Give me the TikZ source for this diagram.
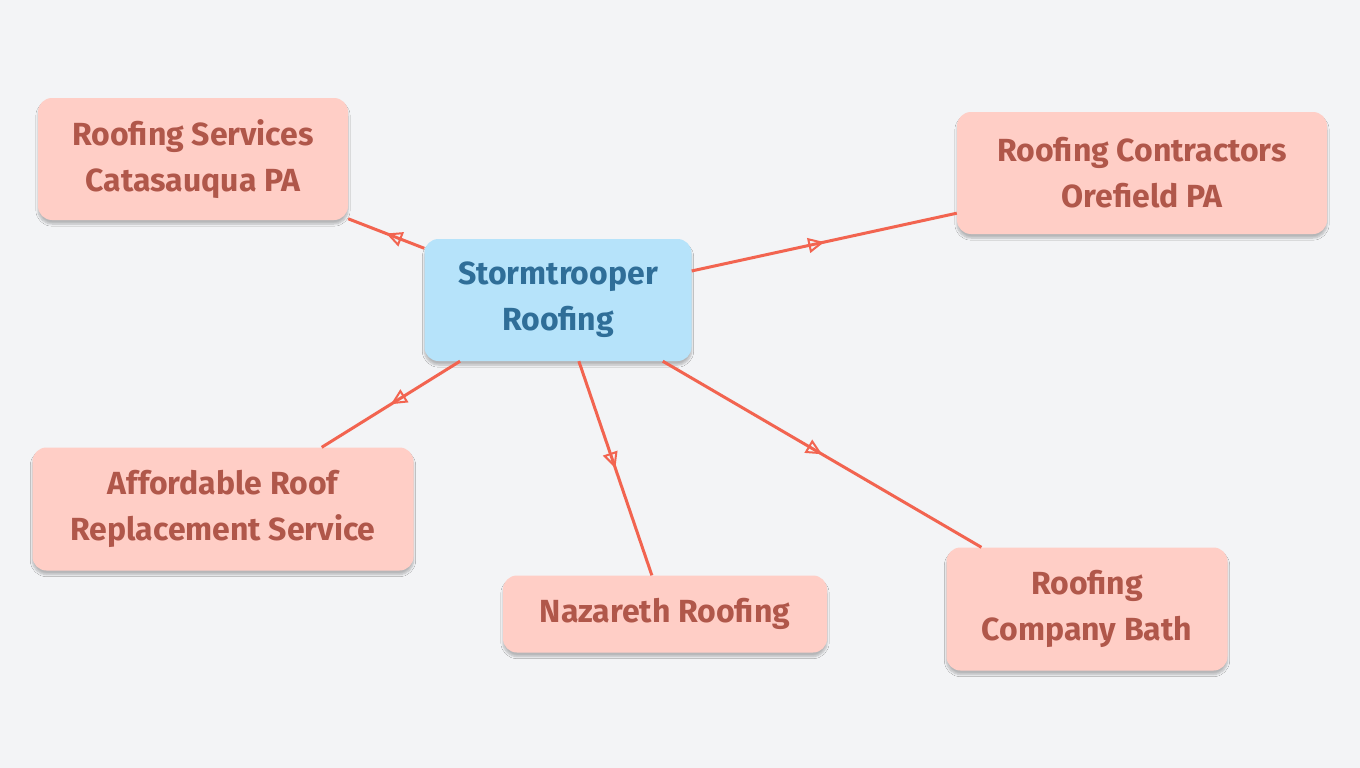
\documentclass[tikz,border=0pt]{standalone}
\usepackage{fontspec}
\setmainfont{Fira Sans}
\usetikzlibrary{arrows.meta,decorations.markings,shadows.blur}
\definecolor{bg}{HTML}{F3F4F6}
\definecolor{cfill}{HTML}{B6E3FA}
\definecolor{ctext}{HTML}{2F6E98}
\definecolor{kfill}{HTML}{FFCEC6}
\definecolor{ktext}{HTML}{B0574A}
\definecolor{edge}{HTML}{F26450}
\tikzset{
 box/.style={rounded corners=14pt,align=center,font=\fontsize{32}{46}\selectfont\bfseries,inner sep=0pt,
   blur shadow={shadow xshift=0pt,shadow yshift=-4pt,shadow blur steps=6,shadow opacity=25}},
 central/.style={box,fill=cfill,text=ctext},
 kid/.style={box,fill=kfill,text=ktext},
 link/.style={draw=edge,line width=3pt,postaction={decorate},
   decoration={markings,mark=at position 0.5 with {\arrow[edge,line width=2pt]{Triangle[open,length=16pt,width=15pt]}}}}
}
\begin{document}
\begin{tikzpicture}[x=1pt,y=-1pt]
\fill[bg] (0,0) rectangle (1360,768);
\useasboundingbox (0,0) rectangle (1360,768);
\node[central,minimum width=267pt,minimum height=122pt] (c) at (558,300) {Stormtrooper\\Roofing};
\node[kid,minimum width=310pt,minimum height=122pt] (a) at (193,159) {Roofing Services\\Catasauqua PA};
\node[kid,minimum width=370pt,minimum height=122pt] (b) at (1142,173) {Roofing Contractors\\Orefield PA};
\node[kid,minimum width=381pt,minimum height=123pt] (d) at (223,509) {Affordable Roof\\Replacement Service};
\node[kid,minimum width=324pt,minimum height=77pt] (e) at (665,614) {Nazareth Roofing};
\node[kid,minimum width=281pt,minimum height=123pt] (f) at (1087,609) {Roofing\\Company Bath};
\path[link] (c) -- (a);
\path[link] (c) -- (b);
\path[link] (c) -- (d);
\path[link] (c) -- (e);
\path[link] (c) -- (f);
\end{tikzpicture}
\end{document}
